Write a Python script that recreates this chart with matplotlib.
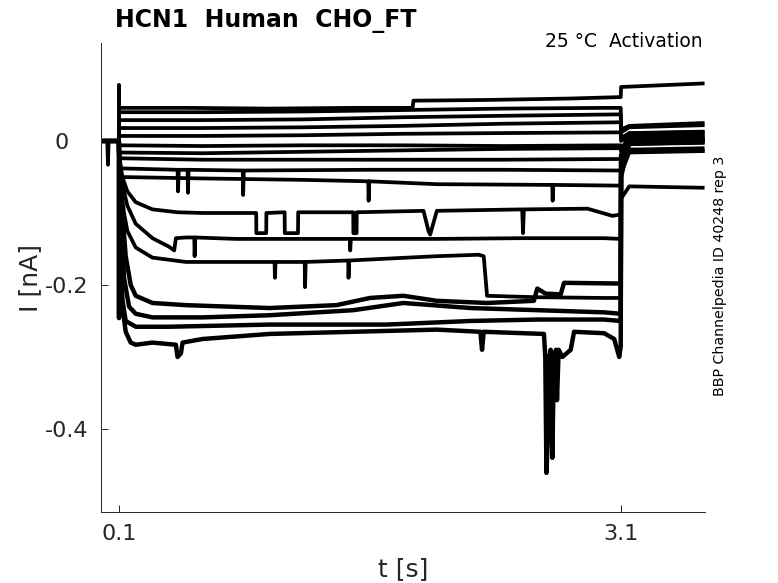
import matplotlib
matplotlib.use("Agg")
import matplotlib.pyplot as plt
import matplotlib.transforms as mtransforms

# ---------------- data (time in s, current in nA) ----------------
u1_t = [0.0, 0.099, 0.1, 0.101, 0.5, 1.0, 1.5, 1.855, 1.86, 2.3, 2.8, 3.099, 3.101, 3.3, 3.6]
u1_i = [0.0, 0.0, 0.078, 0.046, 0.046, 0.045, 0.046, 0.046, 0.056, 0.057, 0.059, 0.061, 0.075, 0.077, 0.080]

u2_t = [0.0, 0.099, 0.101, 0.6, 1.2, 1.8, 2.4, 3.0, 3.099, 3.101, 3.15, 3.6]
u2_i = [0.0, 0.0, 0.040, 0.040, 0.041, 0.043, 0.045, 0.046, 0.046, 0.016, 0.021, 0.025]

u3_t = [0.0, 0.099, 0.101, 0.6, 1.2, 1.8, 2.4, 3.099, 3.101, 3.15, 3.6]
u3_i = [0.0, 0.0, 0.029, 0.029, 0.030, 0.033, 0.035, 0.037, 0.012, 0.019, 0.022]

u4_t = [0.0, 0.099, 0.101, 0.6, 1.2, 1.8, 2.4, 3.099, 3.101, 3.15, 3.6]
u4_i = [0.0, 0.0, 0.018, 0.018, 0.019, 0.021, 0.024, 0.026, 0.004, 0.011, 0.013]

u5_t = [0.0, 0.03, 0.034, 0.038, 0.099, 0.101, 0.6, 1.2, 1.8, 2.4, 3.099, 3.101, 3.15, 3.6]
u5_i = [0.0, 0.0, -0.033, 0.0, 0.0, 0.007, 0.007, 0.008, 0.010, 0.011, 0.012, 0.000, 0.007, 0.009]

u6_t = [0.0, 0.099, 0.101, 0.6, 1.2, 1.8, 2.4, 3.099, 3.101, 3.15, 3.6]
u6_i = [0.0, 0.0, -0.006, -0.007, -0.006, -0.006, -0.007, -0.006, -0.010, 0.003, 0.005]

u7_t = [0.0, 0.099, 0.101, 0.6, 1.2, 1.8, 2.4, 3.099, 3.101, 3.15, 3.6]
u7_i = [0.0, 0.0, -0.016, -0.017, -0.015, -0.013, -0.011, -0.010, -0.015, 0.000, 0.002]

u8_t = [0.0, 0.099, 0.101, 0.6, 1.2, 1.8, 2.4, 3.099, 3.101, 3.15, 3.6]
u8_i = [0.0, 0.0, -0.024, -0.026, -0.026, -0.026, -0.026, -0.025, -0.020, -0.004, -0.002]

u9_t = [0.0, 0.099, 0.101, 0.45, 0.453, 0.457, 0.51, 0.512, 0.516, 0.84, 0.842, 0.846,
        1.6, 2.4, 3.099, 3.101, 3.15, 3.6]
u9_i = [0.0, 0.0, -0.038, -0.040, -0.070, -0.040, -0.040, -0.072, -0.040, -0.041, -0.075, -0.041,
        -0.040, -0.040, -0.041, -0.040, -0.012, -0.010]

u10_t = [0.0, 0.099, 0.101, 0.6, 1.2, 1.59, 1.592, 1.596, 2.0, 2.69, 2.692, 2.696,
         3.099, 3.101, 3.15, 3.6]
u10_i = [0.0, 0.0, -0.050, -0.052, -0.054, -0.056, -0.083, -0.056, -0.060, -0.061, -0.083, -0.061,
         -0.062, -0.045, -0.016, -0.014]

m1_t = [0.0, 0.099, 0.101, 0.12, 0.15, 0.2, 0.3, 0.45, 0.6, 0.92, 0.921, 0.98, 0.981,
        1.09, 1.091, 1.17, 1.171, 1.50, 1.501, 1.52, 1.521, 1.92, 1.95, 1.96, 2.0,
        2.51, 2.515, 2.52, 2.9, 3.05, 3.099, 3.101, 3.15, 3.6]
m1_i = [0.0, 0.0, -0.02, -0.05, -0.07, -0.085, -0.095, -0.099, -0.100, -0.100, -0.128, -0.128, -0.100,
        -0.099, -0.128, -0.128, -0.099, -0.099, -0.128, -0.128, -0.099, -0.097, -0.125, -0.13, -0.097,
        -0.095, -0.128, -0.095, -0.094, -0.104, -0.102, -0.080, -0.063, -0.065]

m2_t = [0.0, 0.099, 0.101, 0.12, 0.15, 0.2, 0.3, 0.4, 0.43, 0.44, 0.5, 0.55, 0.552, 0.556,
        0.8, 1.2, 1.48, 1.482, 1.486, 2.0, 2.5, 3.0, 3.099, 3.101, 3.15, 3.6]
m2_i = [0.0, 0.0, -0.02, -0.06, -0.09, -0.115, -0.135, -0.147, -0.152, -0.135, -0.134, -0.134, -0.160, -0.134,
        -0.136, -0.136, -0.136, -0.152, -0.136, -0.136, -0.135, -0.135, -0.136, -0.040, -0.012, -0.014]

m3_t = [0.0, 0.099, 0.101, 0.11, 0.13, 0.15, 0.2, 0.3, 0.5, 1.03, 1.032, 1.036, 1.21, 1.212, 1.216,
        1.47, 1.472, 1.476, 2.0, 2.25, 2.28, 2.30, 2.6, 3.0, 3.099, 3.101, 3.15, 3.6]
m3_i = [0.0, 0.0, -0.02, -0.06, -0.10, -0.125, -0.148, -0.162, -0.168, -0.168, -0.190, -0.168, -0.168, -0.203, -0.168,
        -0.166, -0.190, -0.166, -0.160, -0.158, -0.160, -0.215, -0.217, -0.218, -0.218, -0.030, 0.004, 0.006]

b4_t = [0.0, 0.099, 0.101, 0.12, 0.14, 0.17, 0.2, 0.3, 0.5, 1.0, 1.4, 1.6, 1.8, 2.0, 2.3, 2.58, 2.6,
        2.65, 2.74, 2.76, 3.099, 3.101, 3.15, 3.6]
b4_i = [0.0, 0.0, -0.02, -0.10, -0.16, -0.20, -0.215, -0.225, -0.228, -0.232, -0.228, -0.218, -0.215, -0.222,
        -0.225, -0.222, -0.205, -0.212, -0.213, -0.197, -0.198, -0.020, 0.010, 0.012]

b3_t = [0.0, 0.099, 0.101, 0.115, 0.13, 0.16, 0.2, 0.3, 0.6, 1.0, 1.5, 1.8, 2.2, 2.6, 3.0, 3.099,
        3.101, 3.15, 3.6]
b3_i = [0.0, 0.0, -0.02, -0.12, -0.19, -0.23, -0.24, -0.245, -0.245, -0.242, -0.235, -0.225, -0.232, -0.235,
        -0.238, -0.240, -0.030, 0.000, 0.002]

b2_t = [0.0, 0.099, 0.101, 0.108, 0.12, 0.14, 0.2, 0.4, 1.0, 1.7, 2.2, 2.6, 3.0, 3.099, 3.101, 3.15, 3.6]
b2_i = [0.0, 0.0, -0.02, -0.15, -0.22, -0.25, -0.258, -0.258, -0.255, -0.255, -0.250, -0.248, -0.248, -0.250,
        -0.040, -0.004, -0.002]

b1_t = [0.0, 0.099, 0.1, 0.101, 0.105, 0.11, 0.12, 0.14, 0.17, 0.2, 0.3, 0.44, 0.45, 0.47, 0.48, 0.6,
        1.0, 1.5, 2.0, 2.26, 2.27, 2.28, 2.64, 2.648, 2.655, 2.665, 2.672, 2.68, 2.69, 2.70, 2.712,
        2.718, 2.728, 2.75, 2.80, 2.82, 3.0, 3.06, 3.09, 3.099, 3.101, 3.15, 3.6]
b1_i = [0.0, 0.0, -0.246, -0.03, -0.10, -0.17, -0.23, -0.265, -0.28, -0.283, -0.28, -0.283, -0.30, -0.295,
        -0.28, -0.275, -0.268, -0.265, -0.262, -0.265, -0.29, -0.265, -0.268, -0.30, -0.461, -0.40, -0.30,
        -0.29, -0.44, -0.30, -0.29, -0.36, -0.29, -0.30, -0.29, -0.265, -0.267, -0.275, -0.30, -0.285,
        -0.050, 0.000, 0.001]

upper_sweeps = [(u1_t, u1_i), (u2_t, u2_i), (u3_t, u3_i), (u4_t, u4_i), (u5_t, u5_i),
                (u6_t, u6_i), (u7_t, u7_i), (u8_t, u8_i), (u9_t, u9_i), (u10_t, u10_i),
                (m1_t, m1_i), (m2_t, m2_i), (m3_t, m3_i)]
lower_sweeps = [(b4_t, b4_i), (b3_t, b3_i), (b2_t, b2_i), (b1_t, b1_i)]

x_ticks = [0.1, 3.1]
x_tick_labels = ["0.1", "3.1"]
y_ticks = [-0.4, -0.2, 0.0]
y_tick_labels = ["-0.4", "-0.2", "0"]

# ---------------- figure ----------------
W, H = 778, 583
fig = plt.figure(figsize=(W / 100, H / 100), dpi=100)
ax = fig.add_axes([101 / W, 1 - 512 / H, (705 - 101) / W, (512 - 43) / H])

for t, i in upper_sweeps:
    ax.plot(t, i, color="black", lw=2.7, solid_joinstyle="round", solid_capstyle="butt")
for t, i in lower_sweeps:
    ax.plot(t, i, color="black", lw=3.2, solid_joinstyle="round", solid_capstyle="butt")

ax.set_xlim(-0.0076, 3.6027)
ax.set_ylim(-0.5153, 0.1361)

axis_col = "#262626"
for s in ["top", "right"]:
    ax.spines[s].set_visible(False)
for s in ["left", "bottom"]:
    ax.spines[s].set_color(axis_col)
    ax.spines[s].set_linewidth(0.7)

ax.set_xticks(x_ticks)
ax.set_xticklabels(x_tick_labels)
ax.set_yticks(y_ticks)
ax.set_yticklabels(y_tick_labels)
ax.tick_params(direction="in", length=5, width=0.7, colors=axis_col, labelsize=16, pad=9)

# the "0" label sits further left in the reference
zero_label = ax.get_yticklabels()[2]
zero_label.set_transform(zero_label.get_transform() +
                         mtransforms.ScaledTranslation(-0.20, 0, fig.dpi_scale_trans))

ax.set_xlabel("t [s]", fontsize=18, color=axis_col, labelpad=9)
ax.set_ylabel("I [nA]", fontsize=18, color=axis_col, labelpad=2)

fig.text(115 / W, 1 - 27 / H, "HCN1  Human  CHO_FT", fontsize=17, fontweight="bold",
         ha="left", va="baseline", color="black")
fig.text(703 / W, 1 - 47 / H, "25 °C  Activation", fontsize=13.5, ha="right",
         va="baseline", color="black")
fig.text(720 / W, 1 - 276 / H, "BBP Channelpedia ID 40248 rep 3", fontsize=10.2,
         rotation=90, ha="center", va="center", color="black")

fig.savefig("out.png", dpi=100)
